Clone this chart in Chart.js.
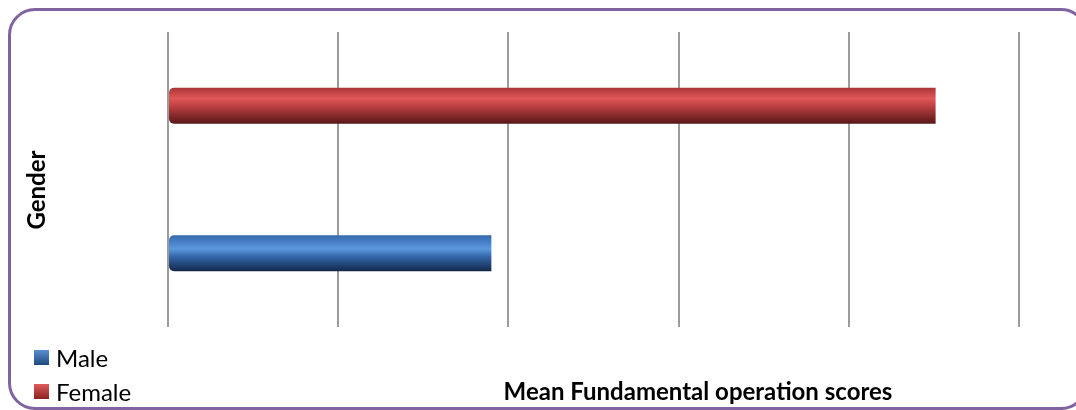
<!DOCTYPE html>
<html>
<head>
<meta charset="utf-8">
<script src="https://cdn.jsdelivr.net/npm/chart.js@4.4.0/dist/chart.umd.min.js"></script>
<style>
  body { margin: 0; background: #fff; }
  #wrap { position: relative; width: 1076px; height: 410px; overflow: hidden; }
  #frame {
    position: absolute; left: 8px; top: 8px; width: 1074px; height: 396px;
    border: 3px solid #8064a2; border-radius: 27px;
  }
  #grafico { position: absolute; left: 0; top: 0; }
</style>
</head>
<body>
<div id="wrap">
  <div id="frame"></div>
  <canvas id="grafico" width="1076" height="410"></canvas>
</div>
<script>
// categorias (de arriba hacia abajo) y valores
var categorias = ['Female', 'Male'];
var male = [null, 1.90];
var female = [4.51, null];
var escala = [0, 5];   // sin etiquetas visibles, 5 divisiones
var tituloX = 'Mean Fundamental operation scores';
var tituloY = 'Gender';

var coloresFemale = [[0, '#a93536'], [0.3, '#e25758'], [0.55, '#b53d3e'], [1, '#561617']];
var coloresMale = [[0, '#3568ad'], [0.38, '#5b98de'], [0.6, '#3366a8'], [1, '#13284a']];
var grosor = 0.245;

function relleno(c, paradas) {
    var chart = c.chart;
    var y = chart.scales.y;
    if (!y || !chart.chartArea || c.dataIndex === undefined) return paradas[1][1];
    var cy = y.getPixelForValue(c.dataIndex);
    var mitad = (y.height / categorias.length) * grosor / 2;
    var g = chart.ctx.createLinearGradient(0, cy - mitad, 0, cy + mitad);
    paradas.forEach(function (p) { g.addColorStop(p[0], p[1]); });
    return g;
}

var textos = {
    id: 'textos',
    afterDraw: function (chart) {
        var ctx = chart.ctx;
        ctx.save();
        ctx.fillStyle = '#000';
        // leyenda
        ctx.font = '24px Lato';
        ctx.textAlign = 'left';
        ctx.textBaseline = 'alphabetic';
        var bases = [367, 401];
        chart.data.datasets.forEach(function (ds, i) {
            var b = bases[i];
            var g = ctx.createLinearGradient(0, b - 17, 0, b - 2);
            g.addColorStop(0, ds.marca[0]);
            g.addColorStop(1, ds.marca[1]);
            ctx.fillStyle = g;
            ctx.fillRect(34, b - 17, 15, 15);
            ctx.fillStyle = '#000';
            ctx.fillText(ds.label, 56, b);
        });
        // titulo eje x
        ctx.font = 'bold 24px Lato';
        ctx.textAlign = 'center';
        ctx.fillText(tituloX, 698, 400);
        // titulo eje y
        ctx.translate(45, 190);
        ctx.rotate(-Math.PI / 2);
        ctx.fillText(tituloY, 0, 0);
        ctx.restore();
    }
};

var ctx = document.getElementById('grafico').getContext('2d');
var miGrafico = new Chart(ctx, {
    type: 'bar',
    data: {
        labels: categorias,
        datasets: [{
            label: 'Male',
            data: male,
            marca: ['#5b8fd0', '#1f4a80'],
            backgroundColor: function (c) { return relleno(c, coloresMale); }
        }, {
            label: 'Female',
            data: female,
            marca: ['#e05a5a', '#8a2222'],
            backgroundColor: function (c) { return relleno(c, coloresFemale); }
        }]
    },
    options: {
        indexAxis: 'y',
        responsive: false,
        animation: false,
        skipNull: true,
        categoryPercentage: 1,
        barPercentage: grosor,
        borderWidth: 0,
        borderSkipped: false,
        borderRadius: { topLeft: 5, bottomLeft: 5, topRight: 0, bottomRight: 0 },
        layout: { padding: { left: 168, right: 57, top: 32, bottom: 83 } },
        plugins: { legend: { display: false }, tooltip: { enabled: false } },
        scales: {
            x: {
                min: escala[0],
                max: escala[1],
                ticks: { display: false, stepSize: 1 },
                grid: { color: '#9c9c9c', lineWidth: 2, drawTicks: false },
                border: { display: false }
            },
            y: { display: false }
        }
    },
    plugins: [textos]
});
</script>
</body>
</html>
